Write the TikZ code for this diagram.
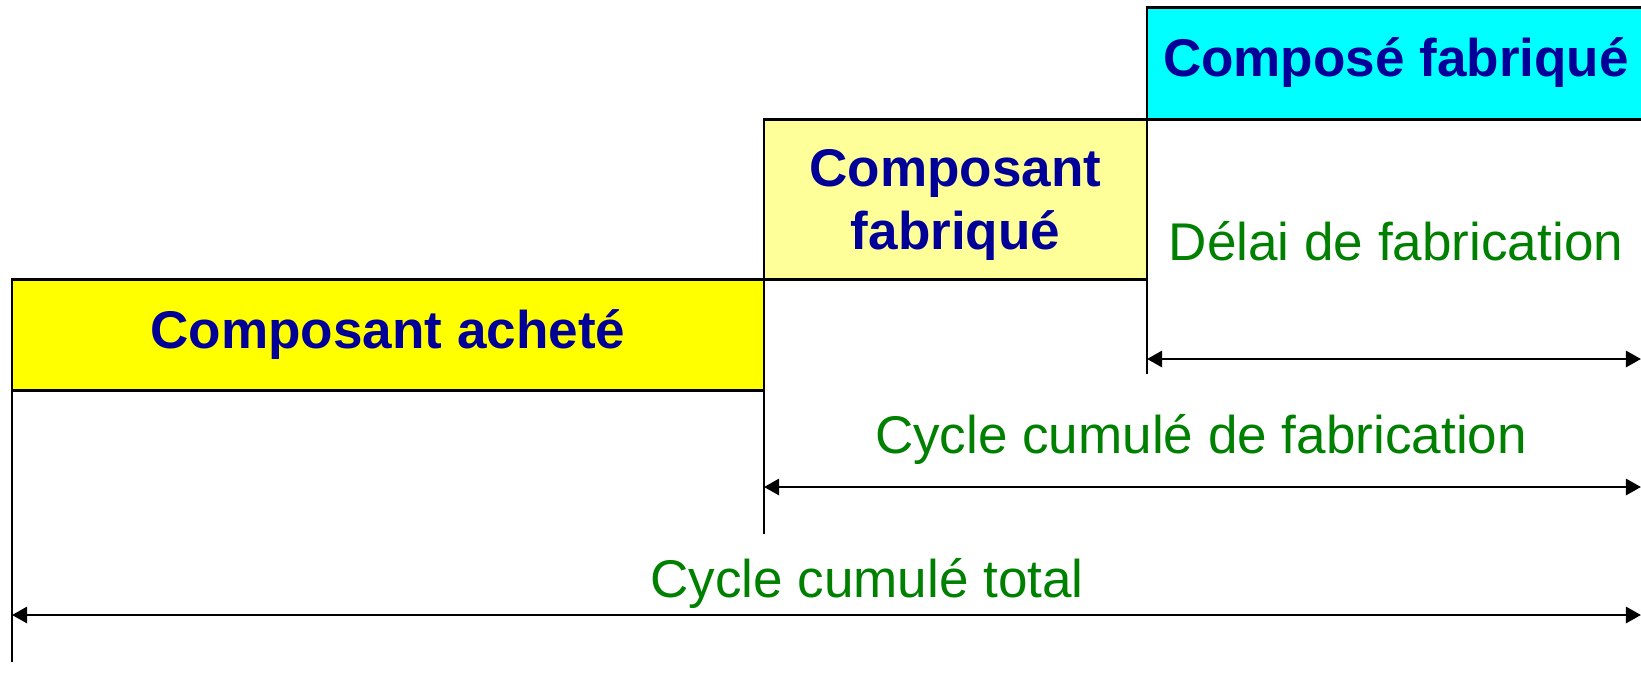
\documentclass[tikz,border=0pt]{standalone}
\usepackage{fontspec}
\setmainfont{Liberation Sans}
\usetikzlibrary{arrows.meta}
\definecolor{titleblue}{RGB}{0,0,153}
\definecolor{delaygreen}{RGB}{0,128,0}
\definecolor{paleyellow}{RGB}{255,255,153}
\definecolor{brightyellow}{RGB}{255,255,0}
\definecolor{brightcyan}{RGB}{0,255,255}
\tikzset{
    piece/.style={draw, line width=0.85pt, minimum height=1.11cm, inner sep=0pt, outer sep=0pt,
    text=titleblue, align=center, font=\fontsize{15.1}{18pt}\selectfont\bfseries},
    delay/.style={text=delaygreen, anchor=base, inner sep=0pt,
    font=\fontsize{15.1}{17.9}\selectfont},
    leg/.style={line width=0.7pt},
    spanarrow/.style={{Triangle[length=4.3pt,width=4.6pt]}-{Triangle[length=4.3pt,width=4.6pt]}, line width=0.75pt}
}

\begin{document}
\begin{tikzpicture}
    \useasboundingbox (0,0) rectangle (16.41,6.77);
    \clip (0,0) rectangle (16.41,6.77);
    \node[piece, fill=brightyellow, minimum width=7.52cm] (achete) at (3.88,3.425) {Composant acheté};
    \node[piece, fill=paleyellow, minimum width=3.83cm, minimum height=1.60cm] (compfab) at (9.555,4.78) {\rule{0pt}{14pt}Composant\\fabriqué};
    \node[piece, fill=brightcyan, minimum width=4.98cm, minimum height=1.12cm, anchor=south west] (compose) at (compfab.north east) {Composé fabriqué};

    \foreach \piece/\foot/\lvl in {achete/0.15/0.62, compfab/1.43/1.90, compose/3.03/3.18}{
        \coordinate (\piece-foot) at (\piece.south west |- 0,\foot);
        \coordinate (\piece-end) at (16.41,\lvl);
        \draw[leg] (\piece.south west) -- (\piece-foot);
        \draw[spanarrow] (\piece.south west |- \piece-end) -- (\piece-end);
    }

    \node[delay] (delai) at (13.96,4.17) {Délai de fabrication};
    \node[delay] (cyclefab) at (12.01,2.24) {Cycle cumulé de fabrication};
    \node[delay] (cycletot) at (8.67,0.80) {Cycle cumulé total};
\end{tikzpicture}
\end{document}
